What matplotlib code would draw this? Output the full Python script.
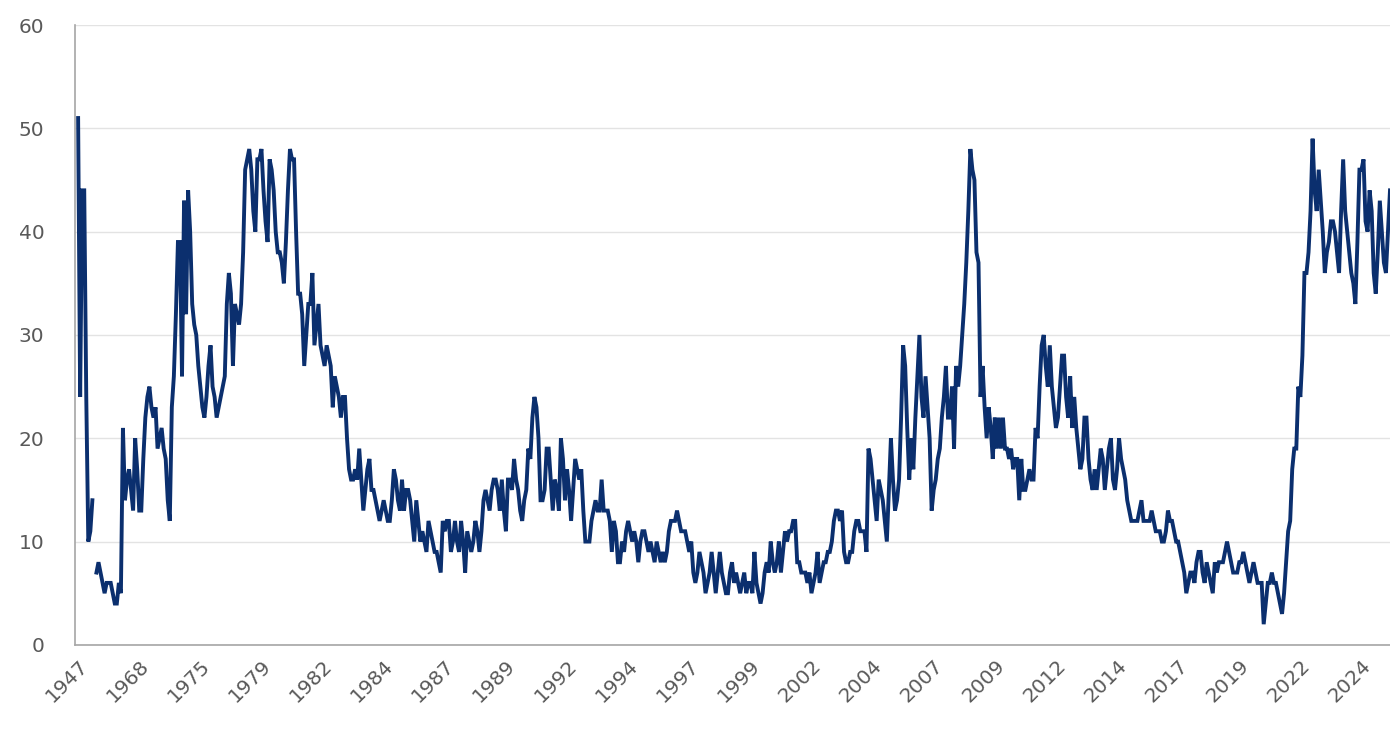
"""
Line chart: long-run monthly series (percent), categorical time axis.
"""

import numpy as np
import matplotlib
matplotlib.use("Agg")
import matplotlib.pyplot as plt

# Tick labels shown every `label_step` observations on the category axis
tick_years = ['1947', '1968', '1975', '1979', '1982', '1984', '1987', '1989',
              '1992', '1994', '1997', '1999', '2002', '2004', '2007', '2009',
              '2012', '2014', '2017', '2019', '2022', '2024']
label_step = 30

# Values (None = gap in the series)
series_1947_1978 = [
    51, 24, 44, 44, 24, 10, 11, 14, None, 7,
    8, 7, 6, 5, 6, 6, 6, 5, 4, 4,
    6, 5, 21, 14, 16, 17, 15, 13, 20, 17,
    13, 13, 18, 22, 24, 25, 23, 22, 23, 19,
    20, 21, 19, 18, 14, 12, 23, 26, 32, 39,
    39, 26, 43, 32, 44, 40, 33, 31, 30, 27,
    25, 23, 22, 24, 27, 29, 25, 24, 22, 23,
    24, 25, 26, 33, 36, 34, 27, 33, 32, 31,
]
series_1979_1988 = [
    33, 38, 46, 47, 48, 46, 42, 40, 47, 47,
    48, 44, 41, 39, 47, 46, 44, 40, 38, 38,
    37, 35, 39, 44, 48, 47, 47, 40, 34, 34,
    32, 27, 30, 33, 33, 36, 29, 31, 33, 29,
    28, 27, 29, 28, 27, 23, 26, 25, 24, 22,
    24, 24, 20, 17, 16, 16, 17, 16, 19, 16,
    13, 15, 17, 18, 15, 15, 14, 13, 12, 13,
    14, 13, 12, 12, 14, 17, 16, 14, 13, 16,
    13, 15, 15, 14, 12, 10, 14, 12, 10, 11,
    10, 9, 12, 11, 10, 9, 9, 8, 7, 12,
]
series_1989_1998 = [
    11, 12, 12, 9, 10, 12, 10, 9, 12, 10,
    7, 11, 10, 9, 10, 12, 11, 9, 11, 14,
    15, 14, 13, 15, 16, 16, 15, 13, 16, 13,
    11, 16, 16, 15, 18, 16, 15, 13, 12, 14,
    15, 19, 18, 22, 24, 23, 20, 14, 14, 15,
    19, 19, 16, 13, 16, 15, 13, 20, 18, 14,
    17, 15, 12, 15, 18, 17, 16, 17, 13, 10,
    10, 10, 12, 13, 14, 13, 13, 16, 13, 13,
    13, 12, 9, 12, 11, 8, 8, 10, 9, 11,
    12, 11, 10, 11, 10, 8, 10, 11, 11, 10,
    9, 10, 9, 8, 10, 9, 8, 9, 8, 9,
    11, 12, 12, 12, 13, 12, 11, 11, 11, 10,
]
series_1999_2008 = [
    9, 10, 7, 6, 7, 9, 8, 7, 5, 6,
    7, 9, 7, 5, 7, 9, 7, 6, 5, 5,
    7, 8, 6, 7, 6, 5, 6, 7, 5, 6,
    6, 5, 9, 6, 5, 4, 5, 7, 8, 7,
    10, 8, 7, 8, 10, 7, 9, 11, 10, 11,
    11, 12, 12, 8, 8, 7, 7, 7, 6, 7,
    5, 6, 7, 9, 6, 7, 8, 8, 9, 9,
    10, 12, 13, 13, 12, 13, 9, 8, 8, 9,
    9, 11, 12, 12, 11, 11, 11, 9, 19, 18,
    16, 14, 12, 16, 15, 14, 12, 10, 15, 20,
    16, 13, 14, 16, 22, 29, 27, 21, 16, 20,
    17, 22, 26, 30, 24, 22, 26, 23, 20, 13,
    15, 16, 18, 19, 22, 24, 27, 22, 22, 25,
    19, 27, 25, 27, 30, 33, 37, 42, 48, 46,
]
series_2009_2024 = [
    45, 38, 37, 24, 27, 23, 20, 23, 21, 18,
    22, 19, 22, 19, 22, 19, 19, 18, 19, 17,
    18, 18, 14, 18, 15, 15, 16, 17, 16, 16,
    21, 20, 25, 29, 30, 27, 25, 29, 25, 23,
    21, 22, 25, 28, 28, 24, 22, 26, 21, 24,
    21, 19, 17, 18, 22, 22, 18, 16, 15, 17,
    15, 17, 19, 18, 15, 17, 19, 20, 16, 15,
    17, 20, 18, 17, 16, 14, 13, 12, 12, 12,
    12, 13, 14, 12, 12, 12, 12, 13, 12, 11,
    11, 11, 10, 10, 11, 13, 12, 12, 11, 10,
    10, 9, 8, 7, 5, 6, 7, 7, 6, 8,
    9, 9, 7, 6, 8, 7, 6, 5, 8, 7,
    8, 8, 8, 9, 10, 9, 8, 7, 7, 7,
    8, 8, 9, 8, 7, 6, 7, 8, 7, 6,
    6, 6, 2, 4, 6, 6, 7, 6, 6, 5,
    4, 3, 5, 8, 11, 12, 17, 19, 19, 25,
    24, 28, 36, 36, 38, 42, 49, 44, 42, 46,
    43, 40, 36, 38, 39, 41, 41, 40, 38, 36,
    42, 47, 42, 40, 38, 36, 35, 33, 39, 46,
    46, 47, 41, 40, 44, 42, 36, 34, 38, 43,
    40, 37, 36, 40, 44,
]

values = np.array(series_1947_1978 + series_1979_1988 + series_1989_1998
                  + series_1999_2008 + series_2009_2024, dtype=float)
x = np.arange(len(values))

fig = plt.figure(figsize=(13.9, 7.37), dpi=100)
ax = fig.add_axes([0.054, 0.125, 0.946, 0.841])

ax.plot(x, values, color='#0b2f6e', linewidth=2.8, solid_joinstyle='miter')

ax.set_ylim(0, 60)
ax.set_yticks(range(0, 61, 10))
ax.set_xlim(-1.5, len(values) - 1)

tick_pos = [i * label_step for i in range(len(tick_years))]
ax.set_xticks(tick_pos)
ax.set_xticklabels(tick_years, rotation=45, ha='right', rotation_mode='anchor')

ax.grid(axis='y', color='#e3e3e3', linewidth=1.0)
ax.set_axisbelow(True)
for side in ['top', 'right']:
    ax.spines[side].set_visible(False)
for side in ['left', 'bottom']:
    ax.spines[side].set_color('#a6a6a6')
    ax.spines[side].set_linewidth(1.2)

ax.tick_params(axis='both', length=0, labelsize=14.5, colors='#595959', pad=8)
ax.tick_params(axis='y', pad=22)

fig.savefig('out.png', dpi=100)
